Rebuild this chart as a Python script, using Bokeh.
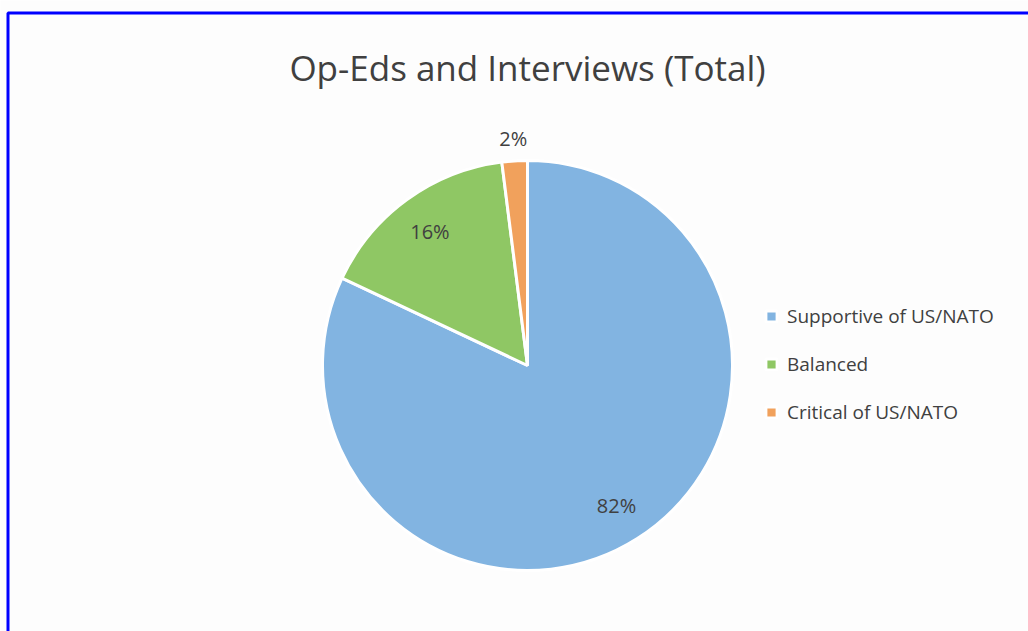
import math
from bokeh.plotting import figure
from bokeh.models import Range1d, Label, Legend, LegendItem, BoxAnnotation
from bokeh.core.properties import value
from bokeh.embed import file_html
from bokeh.resources import INLINE

# ---- data ----
categories = ["Supportive of US/NATO", "Balanced", "Critical of US/NATO"]
shares = [82, 16, 2]
pct_labels = ["82%", "16%", "2%"]
colors = ["#82B4E1", "#8FC764", "#F1A15C"]
label_radius_frac = [0.81, 0.81, 1.11]

W, H = 1028, 631
CX, CY, R = 527, H - 365, 205

p = figure(width=W, height=H, output_backend="svg", toolbar_location=None,
           x_range=Range1d(0, W), y_range=Range1d(0, H), min_border=0,
           background_fill_color="#FDFDFD", border_fill_color="#FFFFFF")
p.axis.visible = False
p.grid.visible = False
p.outline_line_color = None

total = sum(shares)
starts, ends, mids = [], [], []
cum = 0.0
for s in shares:
    a0 = math.pi / 2 - 2 * math.pi * cum / total
    cum += s
    a1 = math.pi / 2 - 2 * math.pi * cum / total
    starts.append(a0)
    ends.append(a1)
    mids.append((a0 + a1) / 2)

items = []
for i, cat in enumerate(categories):
    r = p.wedge(x=CX, y=CY, radius=R, start_angle=starts[i], end_angle=ends[i],
                direction="clock", fill_color=colors[i], line_color="white", line_width=3)
    items.append(LegendItem(label=cat, renderers=[r]))

lx = [CX + R * f * math.cos(m) for f, m in zip(label_radius_frac, mids)]
ly = [CY + R * f * math.sin(m) for f, m in zip(label_radius_frac, mids)]
p.text(x=lx, y=ly, text=pct_labels, text_align="center", text_baseline="middle",
       text_font=value("Open Sans"), text_font_size="20px", text_color="#404040")

p.add_layout(Label(x=CX, y=H - 67, text="Op-Eds and Interviews (Total)",
                   text_align="center", text_baseline="middle",
                   text_font="Open Sans", text_font_size="35px", text_color="#404040"))

legend = Legend(items=items, location=(764, 206), orientation="vertical",
                glyph_width=14, glyph_height=14, label_height=24, spacing=22,
                label_text_font="Open Sans", label_text_font_size="19px",
                label_text_color="#404040", border_line_color=None,
                background_fill_alpha=0, padding=0, margin=0, label_standoff=9)
p.add_layout(legend, "center")

p.add_layout(BoxAnnotation(left=7.5, right=W + 50, top=H - 12.5, bottom=-50,
                           fill_alpha=0, line_color="#0000FF", line_alpha=1.0,
                           line_width=3))

open("out.html", "w").write(file_html(p, INLINE))
